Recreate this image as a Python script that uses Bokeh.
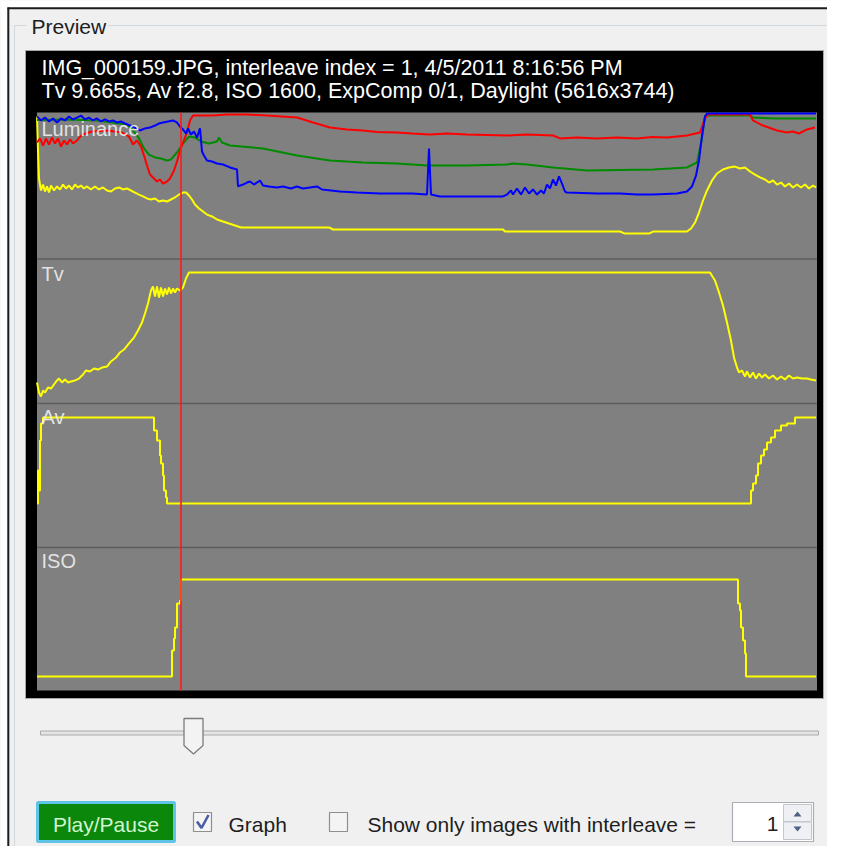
from bokeh.plotting import figure
from bokeh.models import Range1d
from bokeh.embed import file_html
from bokeh.resources import INLINE
from bokeh.core.properties import value

# ---------------- data (frame index, normalised level 0-100 within each panel) ----------------
n_frames = 780
current_frame = 144

header_line1 = "IMG_000159.JPG, interleave index = 1, 4/5/2011 8:16:56 PM"
header_line2 = "Tv 9.665s, Av f2.8, ISO 1600, ExpComp 0/1, Daylight (5616x3744)"
panel_names = ["Luminance", "Tv", "Av", "ISO"]

lum_yellow = [(0, 97.9), (1, 74.5), (2, 55.2), (4, 46.9), (6, 51.0), (8, 46.2), (10, 49.7), (12, 45.5),
              (14, 50.3), (17, 46.9), (20, 49.7), (23, 47.6), (26, 51.0), (29, 48.3), (32, 50.3), (35, 47.6),
              (38, 51.0), (41, 49.0), (44, 50.3), (47, 48.3), (50, 49.7), (54, 47.6), (58, 49.7), (62, 47.6),
              (66, 49.0), (70, 46.9), (74, 46.2), (78, 48.3), (82, 49.0), (86, 47.6), (90, 48.3), (94, 46.9),
              (98, 45.5), (102, 44.1), (106, 42.8), (110, 41.4), (114, 40.7), (118, 41.4), (122, 39.3),
              (126, 40.0), (130, 39.3), (134, 40.7), (138, 42.1), (142, 44.1), (146, 45.5), (149, 45.5),
              (152, 43.4), (155, 40.7), (158, 37.2), (162, 34.5), (166, 32.4), (170, 30.3), (175, 29.0),
              (180, 26.9), (186, 25.5), (192, 24.1), (198, 22.8), (204, 21.4), (292, 21.4), (296, 20.0),
              (466, 20.0), (468, 18.6), (583, 18.6), (588, 17.2), (612, 17.2), (616, 18.6), (650, 18.6),
              (654, 20.7), (658, 24.8), (662, 31.7), (666, 40.0), (670, 46.9), (675, 53.8), (680, 58.6),
              (686, 61.4), (692, 62.8), (698, 63.4), (703, 62.1), (708, 62.8), (713, 60.0), (718, 57.9),
              (723, 55.9), (728, 54.5), (732, 52.4), (736, 53.8), (740, 51.0), (744, 52.4), (748, 49.7),
              (752, 51.7), (756, 49.0), (760, 51.0), (764, 49.0), (768, 51.0), (772, 48.3), (776, 50.3),
              (779, 49.0)]

lum_green = [(0, 95.5), (30, 95.9), (60, 95.2), (90, 92.4), (96, 88.3), (102, 82.8), (107, 75.9), (112, 71.7),
             (118, 69.7), (124, 69.0), (130, 67.6), (134, 68.3), (140, 73.1), (146, 79.3), (152, 84.1),
             (158, 83.4), (164, 80.7), (172, 79.3), (180, 80.7), (182, 83.4), (185, 80.0), (193, 77.9),
             (226, 75.9), (260, 71.0), (293, 67.6), (326, 66.2), (360, 65.5), (390, 64.1), (430, 64.1),
             (470, 64.8), (476, 65.5), (490, 64.8), (516, 62.8), (550, 60.7), (616, 61.4), (650, 62.8),
             (660, 66.2), (665, 82.8), (668, 98.6), (713, 98.6), (716, 97.2), (740, 96.6), (779, 96.6)]

lum_red = [(0, 80.0), (3, 82.8), (6, 77.9), (9, 82.8), (12, 78.6), (15, 83.4), (18, 79.3), (21, 82.8),
           (24, 77.2), (27, 81.4), (30, 78.6), (33, 82.1), (36, 79.3), (40, 81.4), (45, 85.5), (55, 87.6),
           (70, 88.3), (85, 86.9), (92, 84.1), (96, 78.6), (100, 81.4), (104, 77.2), (107, 71.0), (110, 64.1),
           (113, 57.9), (117, 55.2), (120, 53.1), (123, 54.5), (126, 51.7), (130, 53.1), (133, 55.2),
           (137, 60.7), (140, 66.9), (143, 74.5), (146, 80.0), (150, 86.9), (153, 95.2), (156, 98.6),
           (176, 98.6), (190, 99.3), (210, 99.3), (230, 98.6), (260, 97.2), (276, 93.8), (293, 90.3),
           (310, 89.0), (326, 88.3), (340, 87.2), (360, 86.9), (375, 86.2), (393, 85.5), (410, 86.2),
           (430, 85.5), (450, 85.2), (470, 84.8), (490, 85.5), (516, 84.8), (523, 82.8), (540, 83.4),
           (560, 82.8), (580, 83.4), (600, 82.8), (615, 83.8), (630, 83.4), (650, 84.8), (663, 86.9),
           (668, 96.6), (671, 99.3), (713, 99.3), (716, 95.2), (726, 91.7), (740, 88.3), (750, 86.9),
           (756, 87.6), (762, 86.2), (770, 89.0), (778, 90.3)]

lum_blue = [(0, 97.9), (4, 95.2), (8, 97.2), (12, 94.5), (16, 96.6), (20, 93.8), (24, 96.6), (28, 95.2),
            (32, 97.9), (36, 95.9), (40, 97.2), (44, 98.6), (48, 95.9), (52, 97.2), (56, 95.2), (60, 96.6),
            (64, 94.5), (68, 95.9), (72, 94.5), (76, 95.2), (80, 93.8), (84, 94.5), (88, 93.1), (93, 91.7),
            (98, 90.3), (103, 88.3), (108, 89.7), (113, 90.3), (118, 91.7), (122, 93.1), (126, 93.8),
            (131, 94.5), (136, 95.2), (140, 93.8), (143, 91.0), (146, 89.0), (149, 86.2), (151, 89.7),
            (154, 85.5), (157, 87.6), (160, 83.4), (163, 89.7), (165, 73.8), (167, 71.0), (170, 67.6),
            (175, 66.9), (180, 65.5), (186, 64.8), (193, 62.8), (200, 61.4), (201, 49.7), (206, 51.0),
            (210, 52.4), (213, 53.1), (217, 51.0), (223, 53.8), (226, 50.3), (232, 49.7), (240, 49.0),
            (246, 49.7), (254, 48.3), (260, 49.7), (266, 48.3), (273, 49.0), (280, 49.7), (285, 47.6),
            (303, 46.2), (320, 45.5), (343, 44.8), (360, 44.8), (375, 44.8), (390, 44.1), (392, 75.9),
            (394, 44.1), (403, 42.8), (466, 42.8), (470, 44.1), (474, 46.9), (476, 44.1), (480, 48.3),
            (484, 44.1), (488, 49.0), (492, 44.8), (496, 47.6), (500, 44.1), (504, 46.9), (507, 44.8),
            (510, 51.0), (513, 48.3), (516, 54.5), (519, 50.3), (522, 56.6), (525, 51.7), (528, 46.2),
            (530, 45.5), (560, 44.8), (583, 44.8), (600, 44.1), (616, 44.1), (640, 44.8), (650, 46.2),
            (655, 49.7), (659, 57.2), (662, 67.6), (665, 84.8), (668, 97.9), (670, 100.0), (779, 100.0)]

tv_series = [(0, 14.5), (2, 7.6), (4, 4.8), (6, 9.0), (8, 7.6), (11, 11.0), (14, 10.3), (17, 13.1), (20, 15.9),
             (22, 17.2), (25, 14.5), (28, 16.6), (31, 14.5), (34, 15.2), (38, 15.9), (42, 17.2), (46, 20.0),
             (49, 22.8), (53, 22.1), (57, 24.1), (61, 23.4), (65, 24.8), (70, 25.5), (74, 29.0), (79, 31.7),
             (83, 35.2), (87, 37.2), (92, 41.4), (97, 45.5), (101, 50.3), (105, 55.9), (108, 62.1),
             (111, 69.0), (114, 77.9), (116, 80.7), (118, 73.8), (120, 80.7), (122, 73.1), (124, 80.0),
             (126, 73.8), (128, 79.3), (130, 75.2), (132, 80.0), (134, 75.9), (136, 79.3), (138, 76.6),
             (140, 79.3), (143, 77.9), (146, 80.0), (149, 86.2), (152, 90.3), (673, 90.3), (678, 84.8),
             (682, 76.6), (686, 67.6), (690, 55.9), (694, 43.4), (697, 31.7), (700, 24.8), (702, 21.4),
             (705, 22.8), (708, 18.6), (710, 22.1), (713, 17.9), (716, 21.4), (719, 17.2), (722, 20.7),
             (725, 17.9), (728, 20.0), (732, 17.2), (736, 19.3), (740, 16.6), (744, 18.6), (748, 16.6),
             (752, 19.3), (756, 17.2), (760, 17.9), (765, 17.2), (770, 17.2), (774, 16.6), (779, 15.9)]

av_series = [(0, 30.6), (1, 53.5), (2, 39.6), (3, 74.3), (4, 86.1), (6, 90.3), (116, 90.3), (117, 81.3),
             (120, 74.3), (123, 63.9), (124, 58.3), (126, 50.0), (127, 39.6), (129, 34.7), (130, 30.6),
             (713, 30.6), (714, 39.6), (716, 44.4), (719, 50.0), (721, 58.3), (724, 63.9), (727, 68.1),
             (730, 72.9), (734, 76.4), (738, 81.3), (744, 84.7), (750, 86.1), (758, 90.3), (779, 90.3)]

iso_series = [(0, 9.8), (134, 9.8), (135, 28.0), (137, 36.4), (138, 44.1), (140, 60.8), (143, 62.9),
              (144, 77.6), (700, 77.6), (701, 60.8), (703, 55.9), (704, 44.1), (706, 35.0), (708, 25.9),
              (709, 9.8), (779, 9.8)]

# ---------------- layout (screen-pixel coordinates of the reference) ----------------
X0, X1 = 0, 827
Y0, Y1 = 0, 846
PLOT_L, PLOT_R = 36.5, 816.5
PANELS = {"lum": (113, 258), "tv": (258, 403), "av": (403, 547), "iso": (547, 690)}
FONT = value("Liberation Sans")
TB = 7.5          # the text baseline lands this much lower than asked; compensate
BY = 802          # top of the bottom control row
BL = BY + 29 - TB # text baseline of the bottom control row

p = figure(width=X1 - X0, height=Y1 - Y0, x_range=Range1d(X0, X1), y_range=Range1d(Y1, Y0),
           output_backend="svg", toolbar_location=None, x_axis_type=None, y_axis_type=None,
           min_border=0)
p.background_fill_color = "#f0f0f0"
p.border_fill_color = "#f0f0f0"
p.outline_line_color = None
p.grid.visible = False

# frame axis -> screen x
s = (PLOT_R - PLOT_L) / n_frames
p.extra_x_ranges = {"frames": Range1d((X0 - PLOT_L) / s, (X1 - PLOT_L) / s)}
ranges = {}
for k, (t, b) in PANELS.items():
    h = b - t
    ranges[k] = Range1d((b - Y1) / h * 100.0, (b - Y0) / h * 100.0)
p.extra_y_ranges = ranges

# window edges
p.quad(left=0, right=7, top=0, bottom=846, fill_color="#ffffff", line_color=None)
p.quad(left=0, right=827, top=0, bottom=7, fill_color="#ffffff", line_color=None)
p.segment(x0=[7.8, 7], y0=[7, 7.8], x1=[7.8, 827], y1=[846, 7.8], line_color="#1c1c1c", line_width=2)

# group box
p.quad(left=14, right=830, top=25, bottom=857, fill_color=None, line_color="#d3dbe0", line_width=1.2)
p.quad(left=26, right=108, top=17, bottom=33, fill_color="#f0f0f0", line_color=None)
p.text(x=[31], y=[33 - TB], text=["Preview"], text_font=FONT, text_font_size=value("21px"),
       text_color="#202020", text_baseline="alphabetic")

# black frame + gray plot
p.quad(left=25, right=823, top=50, bottom=698, fill_color="#000000", line_color="#a8a8a8", line_width=1)
p.quad(left=PLOT_L, right=PLOT_R, top=112, bottom=690, fill_color="#808080", line_color=None)
p.text(x=[41, 41], y=[75 - TB, 98 - TB], text=[header_line1, header_line2], text_font=FONT,
       text_font_size=value("21.5px"), text_color="#ffffff", text_baseline="alphabetic")

# panel dividers
p.segment(x0=[PLOT_L] * 3, x1=[PLOT_R] * 3, y0=[258.5, 403, 547], y1=[258.5, 403, 547],
          line_color="#5e5e5e", line_width=1.5)


def unzip(pairs):
    return [a for a, _ in pairs], [b for _, b in pairs]


# luminance
for ser, col in ((lum_yellow, "#ffff00"), (lum_green, "#008a00"), (lum_red, "#ff0000"), (lum_blue, "#0000ff")):
    fx, fy = unzip(ser)
    p.line(fx, fy, x_range_name="frames", y_range_name="lum", line_color=col, line_width=2)

fx, fy = unzip(tv_series)
p.line(fx, fy, x_range_name="frames", y_range_name="tv", line_color="#ffff00", line_width=2)
fx, fy = unzip(av_series)
p.step(fx, fy, mode="after", x_range_name="frames", y_range_name="av", line_color="#ffff00", line_width=2)
fx, fy = unzip(iso_series)
p.step(fx, fy, mode="after", x_range_name="frames", y_range_name="iso", line_color="#ffff00", line_width=2)

# current frame marker
p.segment(x0=[current_frame], x1=[current_frame], y0=[112], y1=[690], x_range_name="frames",
          line_color="#ff1a1a", line_width=1.6)

# panel labels
p.text(x=[41] * 4, y=[136 - TB, 281 - TB, 424 - TB, 568 - TB], text=panel_names, text_font=FONT,
       text_font_size=value("20px"), text_color="#f2f2f2", text_alpha=0.88, text_baseline="alphabetic")

# slider
p.quad(left=40, right=818, top=730.5, bottom=734.5, fill_color="#e4e4e4", line_color="#a9a9a9", line_width=1)
p.patch([183.5, 202.5, 202.5, 193, 183.5], [718, 718, 745, 753.5, 745], fill_color="#f3f3f3",
        line_color="#7b7b7b", line_width=1.3)

# play/pause button
p.quad(left=37, right=174, top=BY, bottom=BY + 39, fill_color="#0b870b", line_color="#5fc5e6", line_width=3)
p.text(x=[105.5], y=[BL], text=["Play/Pause"], text_font=FONT, text_font_size=value("21px"),
       text_color="#d2f6d0", text_align="center", text_baseline="alphabetic")

# checkboxes
p.quad(left=[193, 329], right=[211, 347], top=[BY + 10, BY + 10], bottom=[BY + 29, BY + 29], fill_color="#f4f4f4",
       line_color="#8e8f8f", line_width=1.2)
p.line([196.5, 201, 208], [BY + 19, BY + 25.5, BY + 12.5], line_color="#4a5ea6", line_width=2.6)
p.text(x=[228, 367], y=[BL, BL], text=["Graph", "Show only  images with interleave ="], text_font=FONT,
       text_font_size=value("21px"), text_color="#1e1e1e", text_baseline="alphabetic")

# spin box
p.quad(left=732, right=813, top=BY, bottom=BY + 39, fill_color="#ffffff", line_color="#aaadb3", line_width=1.2)
p.quad(left=[783, 783], right=[811, 811], top=[BY + 2, BY + 19.5], bottom=[BY + 19, BY + 37],
       fill_color="#eef0f4", line_color="#c3c7cd", line_width=1)
p.patches([[793, 801, 797], [793, 801, 797]], [[BY + 14, BY + 14, BY + 9], [BY + 24, BY + 24, BY + 29]],
          fill_color="#4d6185", line_color=None)
p.text(x=[778], y=[BL], text=["1"], text_font=FONT, text_font_size=value("21px"), text_color="#1e1e1e",
       text_align="right", text_baseline="alphabetic")

open("out.html", "w").write(file_html(p, INLINE))
